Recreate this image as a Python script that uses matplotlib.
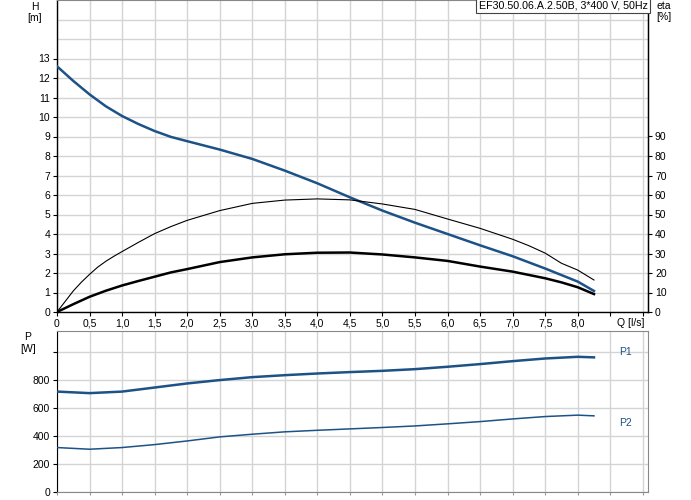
import matplotlib
matplotlib.use("Agg")
import matplotlib.pyplot as plt
from matplotlib.ticker import NullFormatter

plt.rcParams['font.family'] = ['Liberation Sans', 'DejaVu Sans']
plt.rcParams['font.size'] = 7.5

# ---- data ----
q_head = [0, 0.25, 0.5, 0.75, 1.0, 1.25, 1.5, 1.75, 2.0, 2.5, 3.0, 3.5, 4.0, 4.5, 5.0, 5.5,
          6.0, 6.5, 7.0, 7.5, 8.0, 8.25]
head = [12.6, 11.85, 11.16, 10.55, 10.05, 9.64, 9.28, 8.98, 8.76, 8.33, 7.85, 7.25, 6.6, 5.88,
        5.2, 4.58, 4.0, 3.42, 2.86, 2.23, 1.56, 1.08]

q_eta_pump = [0, 0.125, 0.25, 0.375, 0.5, 0.625, 0.75, 0.875, 1.0, 1.25, 1.5, 1.75, 2.0, 2.5,
              3.0, 3.5, 4.0, 4.5, 5.0, 5.5, 6.0, 6.5, 7.0, 7.25, 7.5, 7.75, 8.0, 8.25]
eta_pump = [0, 5.4, 10.8, 15.3, 19.3, 23.0, 26.0, 28.6, 31.0, 35.7, 40.2, 43.8, 47.0, 52.0,
            55.7, 57.4, 58.0, 57.5, 55.4, 52.6, 47.7, 42.9, 37.3, 34.0, 30.2, 25.0, 21.5, 16.4]

q_eta_total = [0, 0.25, 0.5, 0.75, 1.0, 1.25, 1.5, 1.75, 2.0, 2.5, 3.0, 3.5, 4.0, 4.5, 5.0, 5.5,
               6.0, 6.5, 7.0, 7.5, 7.75, 8.0, 8.25]
eta_total = [0, 4.0, 7.8, 10.9, 13.6, 15.9, 18.1, 20.3, 22.0, 25.6, 28.0, 29.6, 30.4, 30.5,
             29.5, 28.0, 26.2, 23.3, 20.7, 17.3, 15.2, 12.7, 9.2]

q_p = [0, 0.5, 1.0, 1.5, 2.0, 2.5, 3.0, 3.5, 4.0, 4.5, 5.0, 5.5, 6.0, 6.5, 7.0, 7.5, 8.0, 8.25]
p1 = [716, 705, 716, 745, 774, 798, 819, 833, 845, 855, 864, 876, 893, 912, 933, 952, 964, 960]
p2 = [317, 305, 317, 338, 364, 393, 412, 429, 440, 450, 460, 471, 486, 502, 521, 538, 548, 543]

x_ticks = [i * 0.5 for i in range(19)]
x_labels = ['0', '0,5', '1,0', '1,5', '2,0', '2,5', '3,0', '3,5', '4,0', '4,5',
            '5,0', '5,5', '6,0', '6,5', '7,0', '7,5', '8,0', '', '']
h_ticks = list(range(0, 14))
h_extra_grid = [14, 15]
eta_ticks = list(range(0, 100, 10))
p_ticks = [0, 200, 400, 600, 800, 1000]
p_labels = ['0', '200', '400', '600', '800', '']
title = 'EF30.50.06.A.2.50B, 3*400 V, 50Hz'

blue = '#1d5287'
grid_c = '#d4d4d4'
W, H = 691, 500
fig = plt.figure(figsize=(W / 100, H / 100), dpi=100)

def frac(l, t, r, b):
    return [l / W, 1 - b / H, (r - l) / W, (b - t) / H]

XMAX = 9.08

# ---- top axes ----
ax = fig.add_axes(frac(57, 0, 648, 312))
ax.set_xlim(0, XMAX)
ax.set_ylim(0, 16)
ax.set_xticks(x_ticks)
ax.set_xticklabels(x_labels)
ax.set_yticks(h_ticks)
ax.grid(True, color=grid_c, linewidth=1.0)
for g in h_extra_grid:
    ax.axhline(g, color=grid_c, linewidth=1.0, zorder=0.5)
ax.set_axisbelow(True)
ax.tick_params(length=3, width=0.8, pad=2, colors='black')
for s in ['left', 'bottom', 'right']:
    ax.spines[s].set_color('black')
    ax.spines[s].set_linewidth(1.0)
ax.spines['top'].set_color('#888888')
ax.plot(q_head, head, color=blue, lw=1.8, zorder=4)

ax2 = ax.twinx()
ax2.set_ylim(0, 160)
ax2.set_yticks(eta_ticks)
ax2.tick_params(length=3, width=0.8, pad=2)
ax2.spines['right'].set_color('black')
ax2.spines['top'].set_visible(False)
ax2.spines['left'].set_visible(False)
ax2.spines['bottom'].set_visible(False)
ax2.plot(q_eta_pump, eta_pump, color='black', lw=0.8, zorder=3)
ax2.plot(q_eta_total, eta_total, color='black', lw=1.8, zorder=3)

ax2.text(0.999, 0.998, title, transform=ax.transAxes, ha='right', va='top', fontsize=7.7,
         bbox=dict(boxstyle='square,pad=0.25', fc='white', ec='#444444', lw=0.8), zorder=10)

fig.text(35 / W, 1 - 7 / H, 'H', ha='center', va='center', fontsize=7.5)
fig.text(35 / W, 1 - 18 / H, '[m]', ha='center', va='center', fontsize=7.5)
fig.text(664 / W, 1 - 6 / H, 'eta', ha='center', va='center', fontsize=7.5)
fig.text(664 / W, 1 - 17 / H, '[%]', ha='center', va='center', fontsize=7.5)
fig.text(631 / W, 1 - 323 / H, 'Q [l/s]', ha='center', va='center', fontsize=7.5)

# ---- bottom axes ----
bx = fig.add_axes(frac(57, 331, 648, 492))
bx.set_xlim(0, XMAX)
bx.set_ylim(0, 1148)
bx.set_xticks(x_ticks)
bx.xaxis.set_major_formatter(NullFormatter())
bx.set_yticks(p_ticks)
bx.set_yticklabels(p_labels)
bx.grid(True, color=grid_c, linewidth=1.0)
bx.set_axisbelow(True)
bx.tick_params(axis='y', length=3, width=0.8, pad=2)
bx.tick_params(axis='x', length=2, width=0.8, color='#999999')
bx.spines['left'].set_color('black')
for s in ['top', 'right', 'bottom']:
    bx.spines[s].set_color('#888888')
bx.plot(q_p, p1, color=blue, lw=1.8, zorder=3)
bx.plot(q_p, p2, color=blue, lw=1.1, zorder=3)

fig.text(28 / W, 1 - 337 / H, 'P', ha='center', va='center', fontsize=7.5)
fig.text(28 / W, 1 - 349 / H, '[W]', ha='center', va='center', fontsize=7.5)
fig.text(625 / W, 1 - 352 / H, 'P1', ha='center', va='center', fontsize=7.5, color=blue)
fig.text(625 / W, 1 - 423 / H, 'P2', ha='center', va='center', fontsize=7.5, color=blue)

fig.savefig('out.png', dpi=100)
